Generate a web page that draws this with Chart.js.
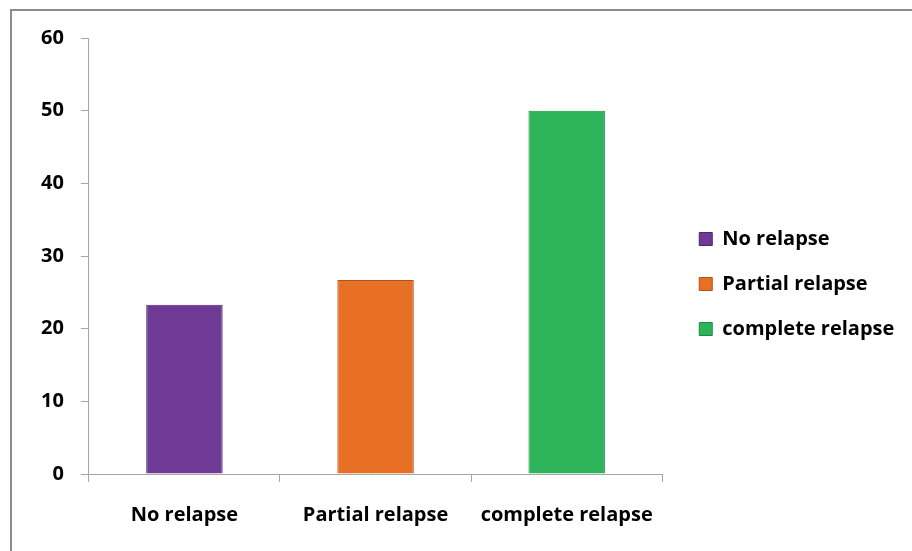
<!DOCTYPE html>
<html>
<head>
<meta charset="utf-8">
<script src="https://cdn.jsdelivr.net/npm/chart.js@4"></script>
<style>
  html, body { margin: 0; padding: 0; background: #fff; }
  #frame {
    position: absolute; left: 10px; top: 9px; width: 902px; height: 542px;
    border-left: 2px solid #8c8c8c; border-top: 2px solid #8c8c8c;
  }
  #wrap { position: absolute; left: 0; top: 0; width: 912px; height: 551px; }
</style>
</head>
<body>
<div id="frame"></div>
<div id="wrap"><canvas id="relapseChart"></canvas></div>
<script>
    const categories = ['No relapse', 'Partial relapse', 'complete relapse'];
    const values = [23.3, 26.7, 50];
    const yTicks = [0, 10, 20, 30, 40, 50, 60];
    const barColors = ['#6f3a96', '#e77025', '#2db45b'];
    const edgeColors = ['#4e2570', '#b0521a', '#1d8a43'];

    const font = { family: '"Open Sans", Lato, sans-serif', size: 20, weight: 'bold' };

    // nudge the legend box a little after layout
    const legendShift = {
        id: 'legendShift',
        afterLayout(chart) {
        const lg = chart.legend;
        if (!lg) return;
        lg.left += 12; lg.right = chart.width;
        lg.top -= 9; lg.bottom -= 9;
        }
    };

    const ctx = document.getElementById('relapseChart').getContext('2d');
    new Chart(ctx, {
        type: 'bar',
        data: {
        labels: categories,
        datasets: [{
            data: values,
            backgroundColor: barColors,
            borderColor: edgeColors,
            borderWidth: 1,
            categoryPercentage: 1,
            barPercentage: 0.4
        }]
        },
        options: {
        responsive: true,
        maintainAspectRatio: false,
        animation: false,
        layout: { padding: { top: 38, left: 24, right: 37, bottom: 3 } },
        plugins: {
            tooltip: { enabled: false },
            legend: {
            position: 'right',
            labels: {
                font: font,
                color: '#000',
                boxWidth: 13,
                boxHeight: 13,
                padding: 25,
                generateLabels: (chart) => categories.map((c, i) => ({
                text: c,
                fillStyle: barColors[i],
                strokeStyle: edgeColors[i],
                lineWidth: 1,
                index: i
                }))
            }
            }
        },
        scales: {
            x: {
            grid: { display: true, offset: true, drawOnChartArea: false, tickLength: 8, color: '#a6a6a6' },
            border: { color: '#a6a6a6' },
            ticks: { font: font, color: '#000', padding: 21 }
            },
            y: {
            min: 0,
            max: 60,
            afterBuildTicks: (axis) => { axis.ticks = yTicks.map(v => ({ value: v })); },
            grid: { display: true, drawOnChartArea: false, tickLength: 8, color: '#a6a6a6' },
            border: { color: '#a6a6a6' },
            ticks: { font: font, color: '#000', padding: 17 }
            }
        }
        },
        plugins: [legendShift]
    });
</script>
</body>
</html>
